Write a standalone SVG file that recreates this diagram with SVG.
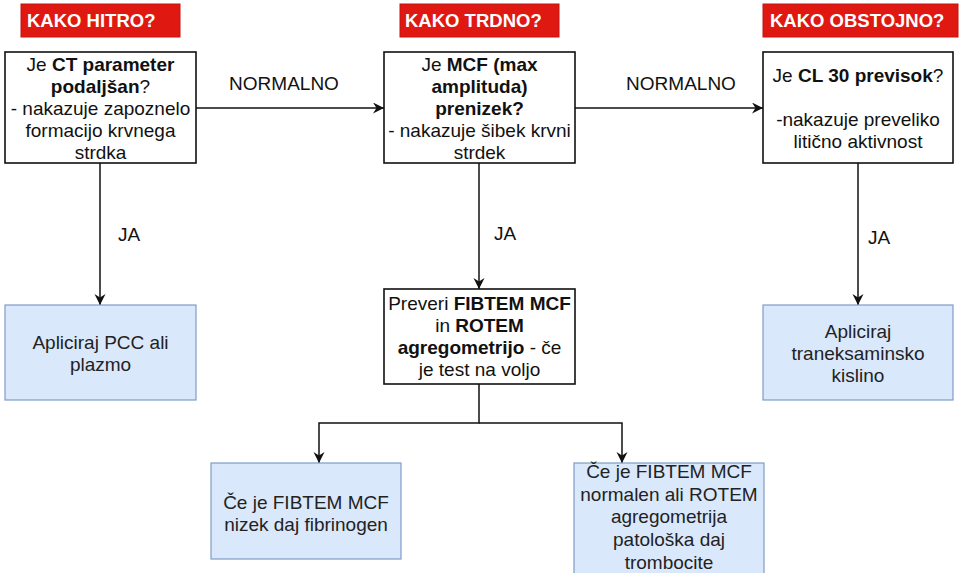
<svg xmlns="http://www.w3.org/2000/svg" width="968" height="573" viewBox="0 0 968 573">
  <style>
    text { font-family: "Liberation Sans", Arial, sans-serif; font-size: 19px; fill: #111; }
    .c { text-anchor: middle; }
    .b { font-weight: bold; }
    .hdr rect { fill: #df1912; stroke: #c21410; stroke-width: 1; }
    .hdr text { fill: #fff; font-weight: bold; font-size: 18.5px; }
    .q rect { fill: #fff; stroke: #111; stroke-width: 1.6; }
    .act rect { fill: #dae8fc; stroke: #7f9cc8; stroke-width: 1.2; }
    .act text { fill: #222; }
    .edge { fill: none; stroke: #111; stroke-width: 1.5; }
  </style>
  <defs>
    <marker id="arrow" markerUnits="userSpaceOnUse" markerWidth="13" markerHeight="13" refX="11" refY="5.5" orient="auto">
      <path d="M0,0 L11,5.5 L0,11 L3.5,5.5 z" fill="#111"/>
    </marker>
  </defs>

  <!-- column headers -->
  <g id="hdr-hitro" class="hdr">
    <rect x="21" y="4" width="159" height="33"/>
    <text x="27" y="27">KAKO HITRO?</text>
  </g>
  <g id="hdr-trdno" class="hdr">
    <rect x="400" y="4" width="159" height="33"/>
    <text x="405" y="27">KAKO TRDNO?</text>
  </g>
  <g id="hdr-obstojno" class="hdr">
    <rect x="763" y="4" width="195" height="33"/>
    <text x="770" y="27">KAKO OBSTOJNO?</text>
  </g>

  <!-- connectors -->
  <g id="connectors">
    <path class="edge" d="M196,108 H384" marker-end="url(#arrow)"/>
    <path class="edge" d="M575,108 H763" marker-end="url(#arrow)"/>
    <path class="edge" d="M100,163 V305" marker-end="url(#arrow)"/>
    <path class="edge" d="M479,163 V289" marker-end="url(#arrow)"/>
    <path class="edge" d="M858,163 V305" marker-end="url(#arrow)"/>
    <path class="edge" d="M479,384 V423 H319 V463" marker-end="url(#arrow)"/>
    <path class="edge" d="M479,423 H622 V463" marker-end="url(#arrow)"/>
    <text class="c" x="284" y="90">NORMALNO</text>
    <text class="c" x="681" y="90">NORMALNO</text>
    <text x="118" y="241">JA</text>
    <text x="494" y="240">JA</text>
    <text x="868" y="244">JA</text>
  </g>

  <!-- question nodes -->
  <g id="q-ct" class="q">
    <rect x="5" y="52" width="191" height="111"/>
    <text class="c" x="100.5" y="71">Je <tspan class="b">CT parameter</tspan></text>
    <text class="c" x="100.5" y="93"><tspan class="b">podaljšan</tspan>?</text>
    <text class="c" x="100.5" y="115">- nakazuje zapoznelo</text>
    <text class="c" x="100.5" y="137">formacijo krvnega</text>
    <text class="c" x="100.5" y="159">strdka</text>
  </g>
  <g id="q-mcf" class="q">
    <rect x="384" y="52" width="191" height="111"/>
    <text class="c" x="479.5" y="71">Je <tspan class="b">MCF (max</tspan></text>
    <text class="c b" x="479.5" y="93">amplituda)</text>
    <text class="c b" x="479.5" y="115">prenizek?</text>
    <text class="c" x="479.5" y="137">- nakazuje šibek krvni</text>
    <text class="c" x="479.5" y="159">strdek</text>
  </g>
  <g id="q-cl30" class="q">
    <rect x="763" y="52" width="190" height="111"/>
    <text class="c" x="858" y="82">Je <tspan class="b">CL 30 previsok</tspan>?</text>
    <text class="c" x="858" y="126">-nakazuje preveliko</text>
    <text class="c" x="858" y="148">litično aktivnost</text>
  </g>
  <g id="q-fibtem" class="q">
    <rect x="384" y="289" width="191" height="95"/>
    <text class="c" x="479.5" y="310">Preveri <tspan class="b">FIBTEM MCF</tspan></text>
    <text class="c" x="479.5" y="332">in <tspan class="b">ROTEM</tspan></text>
    <text class="c" x="479.5" y="354"><tspan class="b">agregometrijo</tspan> - če</text>
    <text class="c" x="479.5" y="376">je test na voljo</text>
  </g>

  <!-- action nodes -->
  <g id="a-pcc" class="act">
    <rect x="5" y="305" width="191" height="95"/>
    <text class="c" x="100.5" y="349">Apliciraj PCC ali</text>
    <text class="c" x="100.5" y="371">plazmo</text>
  </g>
  <g id="a-txa" class="act">
    <rect x="763" y="305" width="190" height="95"/>
    <text class="c" x="858" y="338">Apliciraj</text>
    <text class="c" x="858" y="360">traneksaminsko</text>
    <text class="c" x="858" y="382">kislino</text>
  </g>
  <g id="a-fibrinogen" class="act">
    <rect x="211" y="463" width="190" height="96"/>
    <text class="c" x="306" y="509">Če je FIBTEM MCF</text>
    <text class="c" x="306" y="531">nizek daj fibrinogen</text>
  </g>
  <g id="a-trombociti" class="act">
    <rect x="574" y="463" width="190" height="116"/>
    <text class="c" x="669" y="478">Če je FIBTEM MCF</text>
    <text class="c" x="669" y="501">normalen ali ROTEM</text>
    <text class="c" x="669" y="523">agregometrija</text>
    <text class="c" x="669" y="546">patološka daj</text>
    <text class="c" x="669" y="569">trombocite</text>
  </g>
</svg>
